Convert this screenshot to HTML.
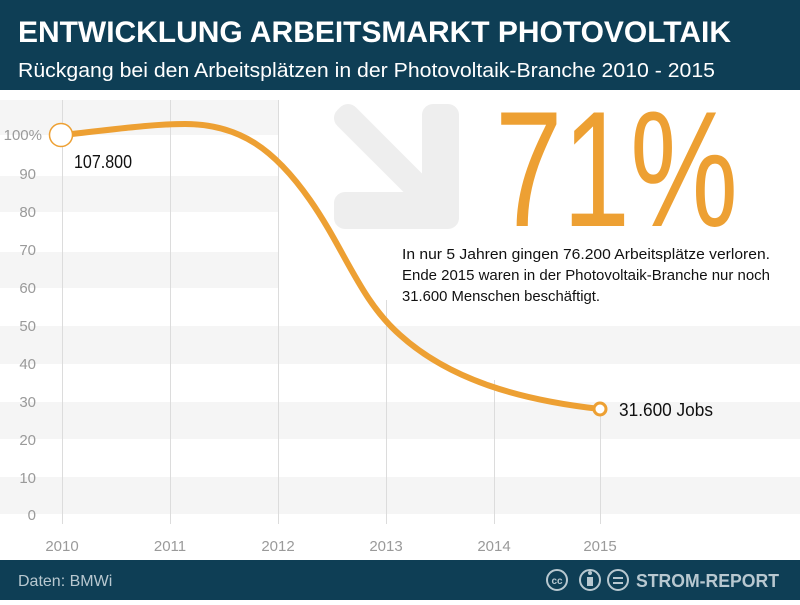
<!DOCTYPE html>
<html><head><meta charset="utf-8"><style>
body{margin:0;width:800px;height:600px;overflow:hidden;background:#fff;font-family:"Liberation Sans",sans-serif}
</style></head><body>
<svg width="800" height="600" viewBox="0 0 800 600" xmlns="http://www.w3.org/2000/svg" font-family="Liberation Sans, sans-serif">
<rect x="0" y="0" width="800" height="90" fill="#0e3e55"/>
<text x="18" y="42" fill="#fff" font-size="30" font-weight="bold" textLength="713" lengthAdjust="spacingAndGlyphs">ENTWICKLUNG ARBEITSMARKT PHOTOVOLTAIK</text>
<text x="18" y="77" fill="#fff" font-size="20" textLength="697" lengthAdjust="spacingAndGlyphs">Rückgang bei den Arbeitsplätzen in der Photovoltaik-Branche 2010 - 2015</text>
<!-- stripes -->
<g fill="#f5f5f5">
<rect x="0" y="100" width="278" height="35"/>
<rect x="0" y="176" width="278" height="36"/>
<rect x="0" y="252" width="278" height="36"/>
<rect x="0" y="326" width="800" height="38"/>
<rect x="0" y="402" width="800" height="37"/>
<rect x="0" y="477" width="800" height="37"/>
</g>
<g stroke="#dcdcdc" stroke-width="1">
<line x1="62.5" y1="100" x2="62.5" y2="524"/>
<line x1="170.5" y1="100" x2="170.5" y2="524"/>
<line x1="278.5" y1="100" x2="278.5" y2="524"/>
<line x1="386.5" y1="300" x2="386.5" y2="524"/>
<line x1="494.5" y1="380" x2="494.5" y2="524"/>
<line x1="600.5" y1="410" x2="600.5" y2="524"/>
</g>
<g fill="#9a9a9a" font-size="15" text-anchor="end">
<text x="42" y="140">100%</text>
<text x="36" y="179">90</text>
<text x="36" y="217">80</text>
<text x="36" y="255">70</text>
<text x="36" y="293">60</text>
<text x="36" y="331">50</text>
<text x="36" y="369">40</text>
<text x="36" y="407">30</text>
<text x="36" y="445">20</text>
<text x="36" y="483">10</text>
<text x="36" y="520">0</text>
</g>
<g fill="#9a9a9a" font-size="15" text-anchor="middle">
<text x="62" y="551">2010</text><text x="170" y="551">2011</text><text x="278" y="551">2012</text>
<text x="386" y="551">2013</text><text x="494" y="551">2014</text><text x="600" y="551">2015</text>
</g>
<!-- arrow -->
<path d="M345 118 L430 203 L345 203 L345 218 L448 218 L448 115 L433 115 L433 200 L348 115 Z" fill="#eeeeee" stroke="#eeeeee" stroke-width="22" stroke-linejoin="round"/>
<text x="495" y="226" fill="#eda033" font-size="165" textLength="243" lengthAdjust="spacingAndGlyphs">71%</text>
<g fill="#111" font-size="15">
<text x="402" y="259" textLength="368" lengthAdjust="spacingAndGlyphs">In nur 5 Jahren gingen 76.200 Arbeitsplätze  verloren.</text>
<text x="402" y="280" textLength="368" lengthAdjust="spacingAndGlyphs">Ende 2015 waren in der Photovoltaik-Branche nur noch</text>
<text x="402" y="301" textLength="198" lengthAdjust="spacingAndGlyphs">31.600 Menschen beschäftigt.</text>
</g>
<path d="M62 135 C110 130,150 124,185 124 C240 124,275 150,310 200 C345 250,360 300,400 335 C450 380,520 400,600 409" fill="none" stroke="#eda033" stroke-width="6" stroke-linecap="round"/>
<circle cx="61" cy="135" r="11.5" fill="#fff" stroke="#eda033" stroke-width="1.5"/>
<circle cx="600" cy="409" r="6" fill="#fff" stroke="#eda033" stroke-width="3"/>
<text x="74" y="168" fill="#111" font-size="18" textLength="58" lengthAdjust="spacingAndGlyphs">107.800</text>
<text x="619" y="416" fill="#111" font-size="18" textLength="94" lengthAdjust="spacingAndGlyphs">31.600  Jobs</text>
<rect x="0" y="560" width="800" height="40" fill="#0e3e55"/>
<text x="18" y="586" fill="#b8c8d0" font-size="16">Daten: BMWi</text>
<g fill="none" stroke="#b8c8d0" stroke-width="2">
<circle cx="557" cy="580" r="10"/><circle cx="590" cy="580" r="10"/><circle cx="618" cy="580" r="10"/>
</g>
<text x="557" y="584" fill="#b8c8d0" font-size="10" font-weight="bold" text-anchor="middle">cc</text>
<rect x="587" y="577" width="6" height="9" fill="#b8c8d0"/><circle cx="590" cy="573" r="2" fill="#b8c8d0"/>
<rect x="613" y="577" width="10" height="2" fill="#b8c8d0"/><rect x="613" y="582" width="10" height="2" fill="#b8c8d0"/>
<text x="636" y="587" fill="#b8c8d0" font-size="18" font-weight="bold" textLength="143" lengthAdjust="spacingAndGlyphs">STROM-REPORT</text>
</svg>
</body></html>
